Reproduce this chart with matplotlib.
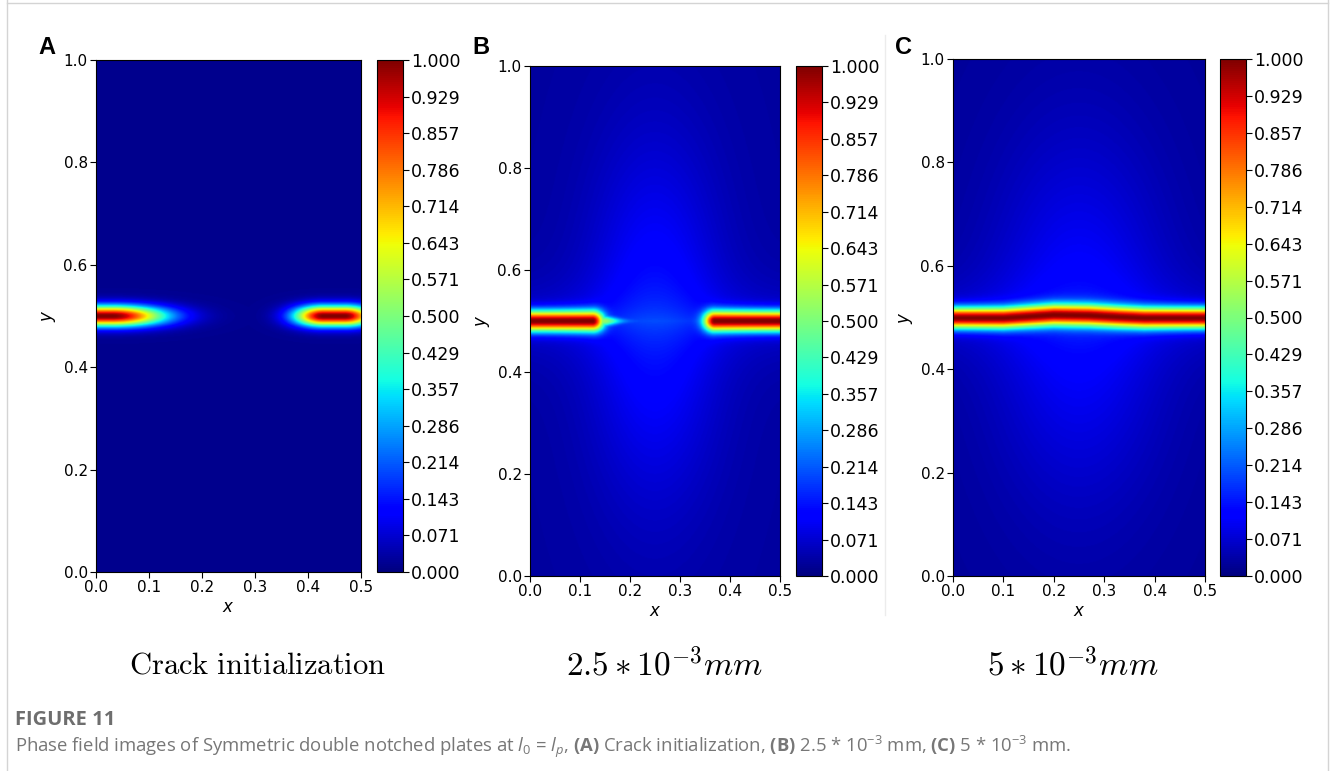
import numpy as np
import matplotlib
matplotlib.use("Agg")
import matplotlib.pyplot as plt
from matplotlib.lines import Line2D

plt.rcParams['font.family'] = ['DejaVu Sans']
plt.rcParams['mathtext.fontset'] = 'custom'
plt.rcParams['mathtext.rm'] = 'Open Sans'
plt.rcParams['mathtext.it'] = 'Open Sans:italic'
plt.rcParams['mathtext.bf'] = 'Open Sans:bold'

# colorbar levels (15 ticks from 0 to 1)
cbar_ticks = np.linspace(0, 1, 15)
panel_letters = ['A', 'B', 'C']
panel_titles = [r'$\mathrm{Crack\ initialization}$',
                r'$2.5*10^{-3}mm$',
                r'$5*10^{-3}mm$']
title_sizes = [22, 24, 24]
title_x = [258, 665, 1073]

# crack geometry: (core start, core end, tip length)
cracks_a = [(0.0, 0.03, 0.10), (0.43, 0.47, 0.055)]
cracks_b = [(0.0, 0.125, 0.022), (0.37, 0.5, 0.022)]
spur_b = (0.145, 0.035, 0.45)            # faint tip extension: start, length, level
center_c_x = [0.0, 0.10, 0.15, 0.20, 0.27, 0.33, 0.38, 0.5]
center_c_y = [0.499, 0.499, 0.502, 0.505, 0.504, 0.501, 0.499, 0.499]
# background level: base, central glow, glow spread in x
bg_a = (0.015, 0.0, 0.15)
bg_b = (0.03, 0.10, 0.13)
bg_c = (0.025, 0.09, 0.17)
crack_width = 0.02

xs = np.linspace(0, 0.5, 301)
ys = np.linspace(0, 1, 601)
X, Y = np.meshgrid(xs, ys)


def background(base, glow, sx):
    return base + glow * np.exp(-((X - 0.25) / sx) ** 2 - ((Y - 0.5) / 0.35) ** 2)


def segment_field(x0, x1, tip, yc=0.5, w=crack_width):
    dx = np.where(X < x0, x0 - X, np.where(X > x1, X - x1, 0.0))
    return np.exp(-(dx / tip) ** 2 - ((Y - yc) / w) ** 2)


def combine(bg, crack):
    return np.clip(bg + (1 - bg) * crack, 0, 1)


halo = 0.07 * np.exp(-np.abs(Y - 0.5) / 0.05)

# panel A
crack = np.zeros_like(X)
for x0, x1, tip in cracks_a:
    crack = np.maximum(crack, segment_field(x0, x1, tip))
field_a = combine(background(*bg_a), crack)

# panel B
crack = np.zeros_like(X)
for x0, x1, tip in cracks_b:
    crack = np.maximum(crack, segment_field(x0, x1, tip))
s0, slen, slev = spur_b
spur = slev * np.where(X > s0, np.exp(-((X - s0) / slen) ** 2), 0.0) \
    * np.exp(-((Y - 0.5) / (0.012 * np.exp(-np.clip(X - s0, 0, None) / 0.05))) ** 2)
crack = np.maximum(crack, spur)
field_b = combine(background(*bg_b) + halo, crack)

# panel C
yc = np.interp(X, center_c_x, center_c_y)
crack = np.exp(-((Y - yc) / crack_width) ** 2)
field_c = combine(background(*bg_c) + halo, crack)

fields = [field_a, field_b, field_c]

fig = plt.figure(figsize=(13.31, 7.71), dpi=100)

# positions in pixels: axes (left, right, top, bottom), colorbar left
ax_px = [(96, 361, 60, 572), (530, 780, 66, 576), (953, 1205, 59, 576)]
cb_px = [377, 796, 1220]
W, H = 1331, 771

for i in range(3):
    l, r, t, b = ax_px[i]
    ax = fig.add_axes([l / W, 1 - b / H, (r - l) / W, (b - t) / H])
    im = ax.imshow(fields[i], cmap='jet', vmin=0, vmax=1, origin='lower',
                   extent=[0, 0.5, 0, 1], aspect='auto', interpolation='bilinear')
    ax.set_xticks([0, 0.1, 0.2, 0.3, 0.4, 0.5])
    ax.set_yticks([0, 0.2, 0.4, 0.6, 0.8, 1.0])
    ax.tick_params(labelsize=11, length=4, width=0.8, pad=2)
    ax.set_xlabel('$x$', fontsize=12, math_fontfamily='dejavusans', labelpad=2)
    ax.set_ylabel('$y$', fontsize=12, math_fontfamily='dejavusans', labelpad=4)
    cax = fig.add_axes([cb_px[i] / W, 1 - b / H, 26 / W, (b - t) / H])
    cb = fig.colorbar(im, cax=cax, ticks=cbar_ticks, format='%.3f')
    cb.ax.tick_params(labelsize=12.5, length=4, width=0.8, pad=2)
    cb.outline.set_linewidth(0.8)
    fig.text((l - 58) / W, 1 - 47 / H, panel_letters[i], fontsize=17,
             fontweight='bold', family='Liberation Sans', va='center', ha='left')
    fig.text(title_x[i] / W, 1 - 665 / H, panel_titles[i], fontsize=title_sizes[i],
             math_fontfamily='cm', ha='center', va='center')

fig.text(15 / W, 1 - 720 / H, 'FIGURE 11', fontsize=14.5, fontweight='bold',
         family='Open Sans', color='#6e6e6e', va='center')
fig.text(15 / W, 1 - 747 / H,
         r'Phase field images of Symmetric double notched plates at $l_0$ = $l_p$, '
         r'$\mathbf{(A)}$ Crack initialization, $\mathbf{(B)}$ 2.5 * 10$^{-3}$ mm, '
         r'$\mathbf{(C)}$ 5 * 10$^{-3}$ mm.',
         fontsize=13.3, family='Open Sans', color='#777777', va='center')

# page frame lines
gray = '#d4d4d4'
fig.add_artist(Line2D([7 / W, 7 / W], [0, 1], color=gray, lw=1))
fig.add_artist(Line2D([1328 / W, 1328 / W], [0, 1], color=gray, lw=1))
fig.add_artist(Line2D([7 / W, 1328 / W], [1 - 3 / H, 1 - 3 / H], color=gray, lw=1))
fig.add_artist(Line2D([885 / W, 885 / W], [1 - 35 / H, 1 - 615 / H], color='#ececec', lw=1))

fig.savefig('out.png', dpi=100)
